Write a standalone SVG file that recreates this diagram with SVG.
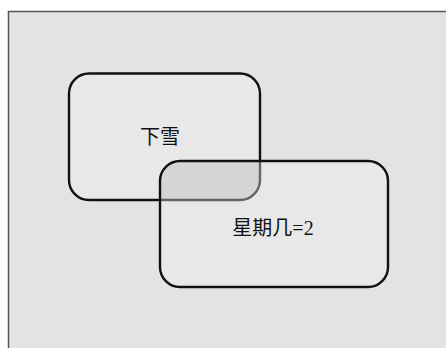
<svg xmlns="http://www.w3.org/2000/svg" width="446" height="348" viewBox="0 0 446 348">
<style>
.box{fill:#e8e8e8;stroke:#111;stroke-width:2.4}
.lbl{font-family:"Liberation Serif","Noto Sans CJK SC",serif;font-size:20px;fill:#111;text-anchor:middle}
</style>
<defs>
<clipPath id="c2"><rect x="160" y="161" width="228" height="126" rx="20"/></clipPath>
</defs>
<rect x="0" y="0" width="446" height="348" fill="#ffffff"/>
<rect x="8.5" y="11.5" width="450" height="350" fill="#e3e3e3" stroke="#555" stroke-width="1.5"/>
<g id="snow">
<rect class="box" x="69" y="73.5" width="191" height="126.5" rx="20"/>
<text class="lbl" x="160" y="144">下雪</text>
</g>
<g id="weekday">
<rect x="160" y="161" width="228" height="126" rx="20" fill="#e8e8e8" stroke="none"/>
<g clip-path="url(#c2)">
<rect x="69" y="73.5" width="191" height="126.5" rx="20" fill="#d5d5d5" stroke="#666" stroke-width="2.4"/>
</g>
<rect x="160" y="161" width="228" height="126" rx="20" fill="none" stroke="#111" stroke-width="2.4"/>
<text class="lbl" x="273" y="235">星期几=2</text>
</g>
<g id="connectors"></g>
</svg>
